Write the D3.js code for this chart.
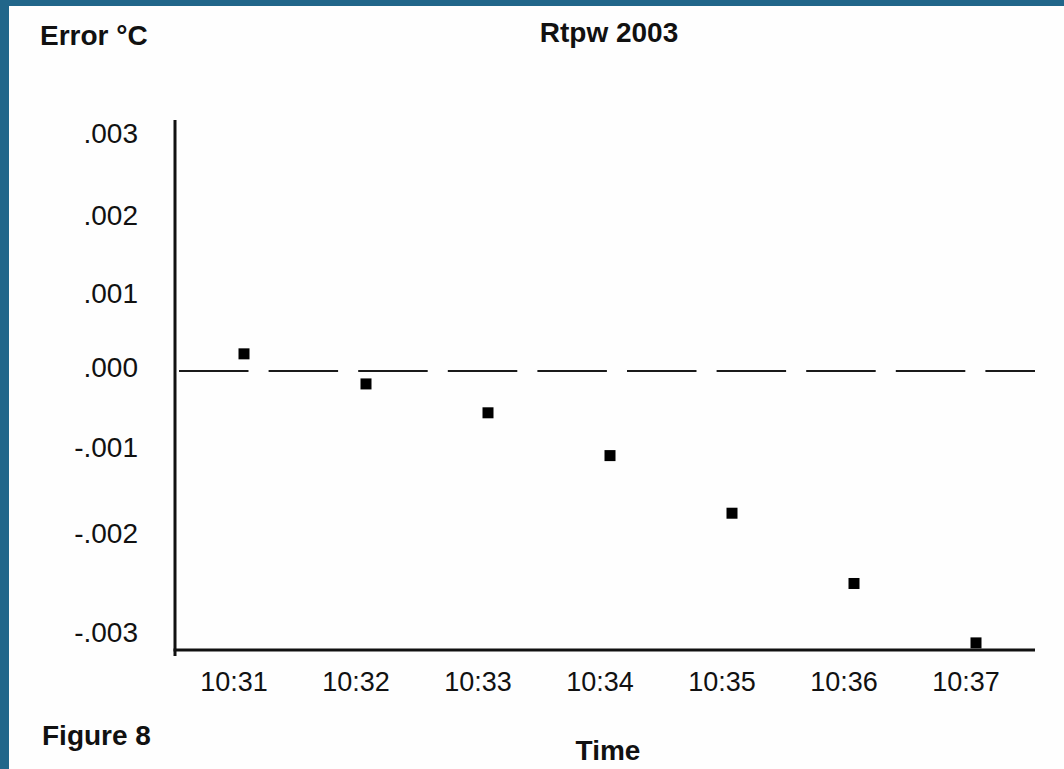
<!DOCTYPE html>
<html>
<head>
<meta charset="utf-8">
<script src="https://cdn.jsdelivr.net/npm/d3@7"></script>
<style>
body{margin:0;background:#21668a;overflow:hidden;}
text{font-family:"Liberation Sans",Arial,sans-serif;fill:#111;}
</style>
</head>
<body>
<div id="chart"></div>
<script>
// data
var times = ["10:31","10:32","10:33","10:34","10:35","10:36","10:37"];
var errors = [0.00022,-0.00017,-0.00055,-0.00110,-0.00177,-0.00251,-0.00311];
var yTicks = [0.003,0.002,0.001,0,-0.001,-0.002,-0.003];
var yTickLabels = [".003",".002",".001",".000","-.001","-.002","-.003"];
// the printed axis is not evenly spaced, so the scale is piecewise
var yTickPos = [133,215,293,371,447,533,632];

var svgWidth = 1064, svgHeight = 769;
var axisX = 175, axisY = 650;

var svg = d3.select("#chart").append("svg")
	.attr("width",svgWidth)
	.attr("height",svgHeight);

//white page
svg.append("rect")
	.attr("x",9).attr("y",6)
	.attr("width",svgWidth-9).attr("height",svgHeight-6)
	.attr("fill","#fefefe");

var x = d3.scalePoint().domain(times).range([233.5,965.5]);
var y = d3.scaleLinear().domain(yTicks).range(yTickPos);

//y ticks
var yAxis = d3.axisLeft(y)
	.tickValues(yTicks)
	.tickSize(0)
	.tickPadding(37)
	.tickFormat(function(d,i){ return yTickLabels[i]; });
var gy = svg.append("g").attr("transform","translate("+axisX+",0)").call(yAxis);
gy.select(".domain").remove();
gy.selectAll("text")
	.attr("font-family","Liberation Sans, Arial, sans-serif")
	.attr("font-size",28)
	.attr("fill","#1a1a1a")
	.attr("dy","0.34em");
// .000 label sits a little above the zero line
gy.selectAll("text").filter(function(d){ return d===0; }).attr("dy","0.2em");

//x ticks
var xAxis = d3.axisBottom(x).tickSize(0).tickPadding(22);
var gx = svg.append("g").attr("transform","translate(0,"+axisY+")").call(xAxis);
gx.select(".domain").remove();
gx.selectAll("text")
	.attr("font-family","Liberation Sans, Arial, sans-serif")
	.attr("font-size",27)
	.attr("fill","#1a1a1a");

//zero line dashed
svg.append("line")
	.attr("x1",179).attr("x2",1035)
	.attr("y1",y(0)).attr("y2",y(0))
	.attr("stroke","#1a1a1a")
	.attr("stroke-width",2)
	.attr("stroke-dasharray","69.5,20.1");

//axis lines
svg.append("line")
	.attr("x1",axisX).attr("x2",axisX)
	.attr("y1",120).attr("y2",656)
	.attr("stroke","#111").attr("stroke-width",3);
svg.append("line")
	.attr("x1",axisX-1.5).attr("x2",1035)
	.attr("y1",axisY).attr("y2",axisY)
	.attr("stroke","#111").attr("stroke-width",3);

//square markers, drawn a bit right of each minute label
var markerSize = 11, markerShift = 10.5;
svg.selectAll("rect.pt").data(errors).enter().append("rect")
	.attr("class","pt")
	.attr("x",function(d,i){ return x(times[i])+markerShift-markerSize/2; })
	.attr("y",function(d){ return y(d)-markerSize/2; })
	.attr("width",markerSize)
	.attr("height",markerSize)
	.attr("fill","#000");

//texts
svg.append("text").text("Error °C")
	.attr("x",40).attr("y",45)
	.attr("font-size",28).attr("font-weight","bold");
svg.append("text").text("Rtpw 2003")
	.attr("x",609).attr("y",42)
	.attr("text-anchor","middle")
	.attr("font-size",28).attr("font-weight","bold");
svg.append("text").text("Figure 8")
	.attr("x",42).attr("y",745)
	.attr("font-size",28).attr("font-weight","bold");
svg.append("text").text("Time")
	.attr("x",608).attr("y",760)
	.attr("text-anchor","middle")
	.attr("font-size",28).attr("font-weight","bold");
</script>
</body>
</html>
